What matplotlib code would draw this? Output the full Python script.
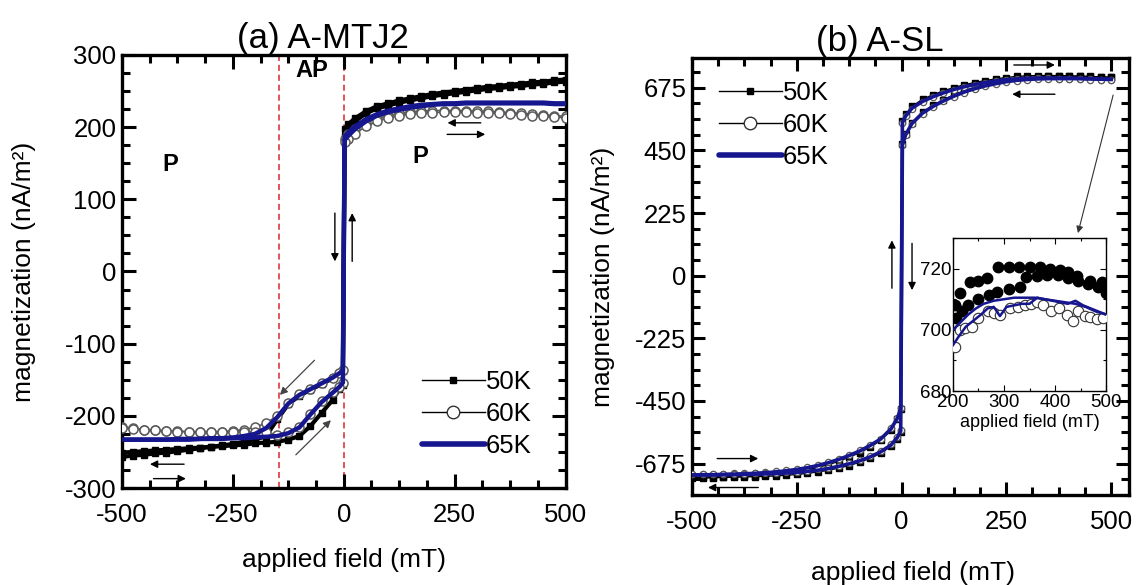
import matplotlib
matplotlib.use('Agg')
import matplotlib.pyplot as plt
from matplotlib.lines import Line2D
from matplotlib.ticker import MultipleLocator

plt.rcParams['font.family'] = ['Liberation Sans', 'DejaVu Sans']
plt.rcParams['axes.unicode_minus'] = False

# ---------------- data ----------------
# shared field grid (mT), listed from +500 down to -500
FIELD = [500, 475, 450, 425, 400, 375, 350, 325, 300, 275, 250, 225, 200, 175,
         150, 125, 100, 75, 50, 25, 10, 2,
         -2, -10, -25, -50, -75, -100, -125, -150, -175, -200, -225, -250, -275,
         -300, -325, -350, -375, -400, -425, -450, -475, -500]

# (a) A-MTJ2 : descending-field branch and ascending-field branch
A50_down = [266, 265, 263, 262, 260, 259, 257, 256, 254, 252, 250, 248, 246, 243,
            240, 237, 233, 229, 222, 212, 204, 198,
            -138, -142, -148, -156, -164, -172, -184, -205, -228, -233, -236, -239, -241,
            -243, -245, -247, -249, -251, -252, -254, -255, -257]
A50_up = [263, 262, 260, 259, 257, 256, 254, 253, 251, 249, 247, 245, 243, 240,
          237, 234, 230, 226, 219, 208, 198, 188,
          -157, -163, -178, -196, -214, -228, -233, -236, -237, -238, -240, -241, -242,
          -243, -244, -245, -246, -247, -248, -249, -250, -251]
A60_down = [215, 216, 217, 218, 219, 220, 221, 222, 222, 223, 223, 223, 223, 222,
            221, 219, 216, 212, 206, 197, 190, 184,
            -136, -140, -147, -155, -163, -170, -182, -200, -210, -216, -219, -221, -222,
            -222, -222, -222, -221, -221, -220, -219, -217, -215]
A60_up = [213, 214, 215, 216, 217, 218, 219, 220, 220, 221, 221, 221, 220, 219,
          218, 216, 213, 208, 201, 191, 184, 179,
          -154, -160, -167, -180, -197, -215, -222, -226, -223, -222, -222, -223, -223,
          -223, -223, -222, -222, -221, -220, -219, -218, -217]
A65_down = [233, 233, 234, 234, 234, 234, 234, 234, 234, 234, 233, 233, 232, 231,
            229, 226, 223, 218, 211, 201, 193, 187,
            -137, -141, -147, -155, -163, -171, -183, -202, -217, -225, -228, -230, -231,
            -231, -232, -232, -232, -233, -233, -233, -233, -233]
A65_up = [232, 232, 233, 233, 233, 233, 233, 233, 233, 233, 232, 232, 231, 229,
          227, 224, 221, 216, 208, 197, 188, 182,
          -154, -160, -168, -181, -198, -216, -224, -228, -229, -230, -231, -231, -232,
          -232, -232, -233, -233, -233, -233, -233, -233, -233]

# (b) A-SL
B50_down = [713, 714, 716, 717, 718, 719, 719, 719, 718, 716, 712, 707, 701, 694,
            686, 676, 664, 650, 634, 608, 580, 555,
            -478, -515, -555, -592, -616, -636, -652, -667, -679, -689, -697, -704, -709,
            -713, -716, -718, -720, -721, -722, -723, -724, -725]
B50_up = [713, 714, 715, 716, 717, 717, 716, 714, 712, 708, 702, 695, 687, 677,
          665, 650, 632, 612, 588, 550, 510, 472,
          -562, -585, -612, -638, -656, -670, -682, -691, -699, -705, -710, -714, -717,
          -719, -721, -722, -723, -724, -725, -726, -727, -728]
B60_down = [703, 704, 705, 706, 707, 708, 709, 709, 708, 706, 703, 698, 693, 686,
            678, 668, 656, 642, 625, 600, 572, 548,
            -475, -510, -548, -585, -608, -628, -644, -658, -670, -680, -688, -694, -699,
            -703, -706, -708, -709, -710, -711, -711, -712, -712]
B60_up = [702, 703, 704, 705, 706, 707, 707, 706, 704, 700, 695, 688, 680, 670,
          658, 643, 626, 606, 582, 545, 505, 468,
          -555, -578, -605, -630, -648, -662, -673, -682, -690, -696, -700, -704, -706,
          -708, -709, -710, -711, -712, -712, -713, -713, -714]
B65_down = [706, 707, 708, 709, 710, 710, 710, 710, 709, 707, 704, 700, 694, 687,
            679, 669, 657, 643, 626, 602, 574, 550,
            -477, -512, -550, -587, -610, -630, -646, -660, -672, -682, -690, -696, -701,
            -705, -708, -710, -712, -713, -714, -715, -715, -716]
B65_up = [705, 706, 707, 708, 708, 708, 708, 707, 705, 702, 697, 690, 682, 672,
          660, 645, 628, 608, 584, 547, 507, 470,
          -558, -581, -608, -633, -651, -665, -676, -685, -693, -699, -703, -707, -709,
          -711, -712, -713, -714, -715, -715, -716, -716, -717]

# inset of (b): 200-500 mT
IN50_a_x = [204, 214, 233, 250, 266, 289, 310, 330, 350, 370, 390, 410, 425, 443, 469, 492, 500]
IN50_a_y = [708, 712, 715.5, 716, 717, 720.5, 720.5, 720.5, 720.5, 720.5, 720, 719.5, 719, 717.5, 716, 715.5, 714]
IN50_b_x = [205, 218, 230, 250, 270, 286, 310, 331, 344, 365, 385, 405, 425, 445, 465, 485, 500]
IN50_b_y = [704, 706, 708, 710, 711.5, 712.3, 713.5, 714, 717.3, 717.5, 718, 718, 717, 716, 715, 714, 712]
IN60_x = [204, 214, 224, 237, 250, 269, 280, 292, 312, 327, 341, 352, 364, 377, 393, 408, 423, 435, 445, 458, 469, 482, 494]
IN60_y = [694.4, 700, 700.5, 701, 703.8, 706, 705.5, 704.9, 707, 707.5, 708, 708.5, 709.2, 708, 706, 707, 705, 703, 706, 704.5, 704.3, 703.5, 703.8]
IN65_a_x = [200, 215, 230, 245, 260, 280, 300, 320, 340, 360, 380, 400, 420, 440, 460, 480, 500]
IN65_a_y = [700, 702.5, 705, 707, 708.5, 709.5, 710, 710.5, 710.5, 710.5, 710, 709.5, 709, 708.5, 707.5, 706, 705]
IN65_b_x = [200, 212, 225, 240, 255, 268, 280, 292, 305, 320, 335, 350, 365, 380, 395, 410, 425, 440, 455, 470, 485, 500]
IN65_b_y = [695, 698, 701, 703, 705, 707, 707.5, 704.5, 707.5, 708, 708.5, 708.5, 710.5, 710, 709.5, 709, 708.5, 709.5, 708, 707, 706, 705]

LABELS = ['50K', '60K', '65K']
NAVY = '#16168e'
GRAY = '#5a5a5a'
RED = '#d8262c'

# ---------------- figure ----------------
fig = plt.figure(figsize=(11.36, 5.85), dpi=100)
axA = fig.add_axes([0.1074, 0.1658, 0.3904, 0.7402])
axB = fig.add_axes([0.6092, 0.1538, 0.3847, 0.7470])
axI = fig.add_axes([0.8389, 0.3316, 0.1347, 0.2615])


def style_main(ax, major_len, minor_len):
    for s in ax.spines.values():
        s.set_linewidth(2.4)
    ax.tick_params(which='both', direction='in', top=True, right=True,
                   width=2.2, labelsize=18.5, pad=4)
    ax.tick_params(which='major', length=major_len)
    ax.tick_params(which='minor', length=minor_len)
    ax.tick_params(axis='x', which='both', pad=11)


# ---- panel (a)
axA.axvline(-145, color=RED, lw=1.1, ls=(0, (4, 2.5)), zorder=1)
axA.axvline(0, color=RED, lw=1.1, ls=(0, (4, 2.5)), zorder=1)
for m in (A50_down, A50_up):
    axA.plot(FIELD, m, color='black', lw=3, marker='s', ms=4.5, zorder=2)
for m in (A60_down, A60_up):
    axA.plot(FIELD, m, color=GRAY, lw=1.2, marker='o', ms=6.5, mfc='white',
             mec=GRAY, mew=1.1, zorder=3)
for m in (A65_down, A65_up):
    axA.plot(FIELD, m, color=NAVY, lw=3.2, zorder=4)

axA.set_xlim(-500, 500)
axA.set_ylim(-300, 300)
axA.xaxis.set_major_locator(MultipleLocator(250))
axA.xaxis.set_minor_locator(MultipleLocator(62.5))
axA.yaxis.set_major_locator(MultipleLocator(100))
axA.yaxis.set_minor_locator(MultipleLocator(25))
style_main(axA, 10, 5.8)
axA.set_title('(a) A-MTJ2', fontsize=25, x=0.453, pad=5)
axA.set_xlabel('applied field (mT)', fontsize=19)
axA.set_ylabel('magnetization (nA/m²)', fontsize=19)
axA.xaxis.set_label_coords(0.5006, -0.138)
axA.yaxis.set_label_coords(-0.195, 0.5)

axA.text(-392, 148, 'P', fontsize=17, fontweight='bold', ha='center', va='center')
axA.text(172, 160, 'P', fontsize=17, fontweight='bold', ha='center', va='center')
axA.text(-72, 279, 'AP', fontsize=17, fontweight='bold', ha='center', va='center')

arw = dict(arrowstyle='-|>', color='black', lw=1.0, mutation_scale=11, shrinkA=0, shrinkB=0)
arw_g = dict(arrowstyle='-|>', color='#444444', lw=0.9, mutation_scale=11, shrinkA=0, shrinkB=0)
axA.annotate('', xy=(-20, 14), xytext=(-20, 81), arrowprops=arw)
axA.annotate('', xy=(19, 81), xytext=(19, 14), arrowprops=arw)
axA.annotate('', xy=(234, 206), xytext=(309, 206), arrowprops=arw)
axA.annotate('', xy=(319, 190), xytext=(233, 190), arrowprops=arw)
axA.annotate('', xy=(-437, -267), xytext=(-360, -267), arrowprops=arw)
axA.annotate('', xy=(-356, -287), xytext=(-429, -287), arrowprops=arw)
axA.annotate('', xy=(-144, -171), xytext=(-66, -123), arrowprops=arw_g)
axA.annotate('', xy=(-29, -206), xytext=(-108, -254), arrowprops=arw_g)

hA = [Line2D([], [], color='black', lw=1, marker='s', ms=5),
      Line2D([], [], color='black', lw=1, marker='o', ms=9, mfc='white', mec='#333333'),
      Line2D([], [], color=NAVY, lw=4, solid_capstyle='round')]
axA.legend(hA, LABELS, loc='upper left', bbox_to_anchor=(0.676, 0.272),
           frameon=False, fontsize=18.5, handlelength=2.45, handletextpad=0.05,
           labelspacing=0.3, borderpad=0, borderaxespad=0)

# ---- panel (b)
for m in (B50_down, B50_up):
    axB.plot(FIELD, m, color='black', lw=1.0, marker='s', ms=4, zorder=2)
for m in (B60_down, B60_up):
    axB.plot(FIELD, m, color=GRAY, lw=1.0, marker='o', ms=4.5, mfc='white',
             mec=GRAY, mew=0.9, zorder=3)
for m in (B65_down, B65_up):
    axB.plot(FIELD, m, color=NAVY, lw=2.6, zorder=4)

axB.set_xlim(-500, 543)
axB.set_ylim(-788, 782)
axB.xaxis.set_major_locator(MultipleLocator(250))
axB.xaxis.set_minor_locator(MultipleLocator(62.5))
axB.yaxis.set_major_locator(MultipleLocator(225))
axB.yaxis.set_minor_locator(MultipleLocator(56.25))
axB.set_yticks([-675, -450, -225, 0, 225, 450, 675])
style_main(axB, 9.4, 5.5)
axB.set_title('(b) A-SL', fontsize=25, x=0.43, pad=5)
axB.set_xlabel('applied field (mT)', fontsize=19)
axB.set_ylabel('magnetization (nA/m²)', fontsize=19)
axB.xaxis.set_label_coords(0.506, -0.15)
axB.yaxis.set_label_coords(-0.176, 0.5)

axB.annotate('', xy=(-23, 127), xytext=(-23, -45), arrowprops=arw)
axB.annotate('', xy=(25, -52), xytext=(25, 116), arrowprops=arw)
axB.annotate('', xy=(366, 757), xytext=(268, 757), arrowprops=arw)
axB.annotate('', xy=(264, 652), xytext=(366, 652), arrowprops=arw)
axB.annotate('', xy=(-342, -657), xytext=(-440, -657), arrowprops=arw)
axB.annotate('', xy=(-462, -761), xytext=(-342, -761), arrowprops=arw)
axB.annotate('', xy=(421, 153), xytext=(505, 649),
             arrowprops=dict(arrowstyle='-|>', color='#333333', lw=0.8,
                             mutation_scale=10, shrinkA=0, shrinkB=0))

hB = [Line2D([], [], color='black', lw=1, marker='s', ms=5),
      Line2D([], [], color='black', lw=1, marker='o', ms=9, mfc='white', mec='#333333'),
      Line2D([], [], color=NAVY, lw=4, solid_capstyle='round')]
axB.legend(hB, LABELS, loc='upper left', bbox_to_anchor=(0.061, 0.947),
           frameon=False, fontsize=18.5, handlelength=2.45, handletextpad=0.05,
           labelspacing=0.3, borderpad=0, borderaxespad=0)

# ---- inset
axI.plot(IN50_a_x, IN50_a_y, ls='none', marker='o', ms=7.5, color='black', zorder=2)
axI.plot(IN50_b_x, IN50_b_y, ls='none', marker='o', ms=7.5, color='black', zorder=2)
axI.plot(IN60_x, IN60_y, ls='none', marker='o', ms=7.5, mfc='white', mec='#333333',
         mew=0.8, zorder=3)
axI.plot(IN65_a_x, IN65_a_y, color=NAVY, lw=1.8, zorder=4)
axI.plot(IN65_b_x, IN65_b_y, color=NAVY, lw=1.8, zorder=4)
axI.set_xlim(200, 500)
axI.set_ylim(680, 730)
axI.set_xticks([200, 300, 400, 500])
axI.set_yticks([680, 700, 720])
axI.xaxis.set_minor_locator(MultipleLocator(50))
axI.yaxis.set_minor_locator(MultipleLocator(10))
for s in axI.spines.values():
    s.set_linewidth(1.0)
axI.tick_params(which='both', direction='in', top=True, right=True, width=0.8,
                labelsize=13.5, pad=1)
axI.tick_params(axis='x', which='both', pad=2)
axI.tick_params(which='major', length=4)
axI.tick_params(which='minor', length=2)
axI.set_xlabel('applied field (mT)', fontsize=13, labelpad=2)

fig.savefig('out.png', dpi=100)
